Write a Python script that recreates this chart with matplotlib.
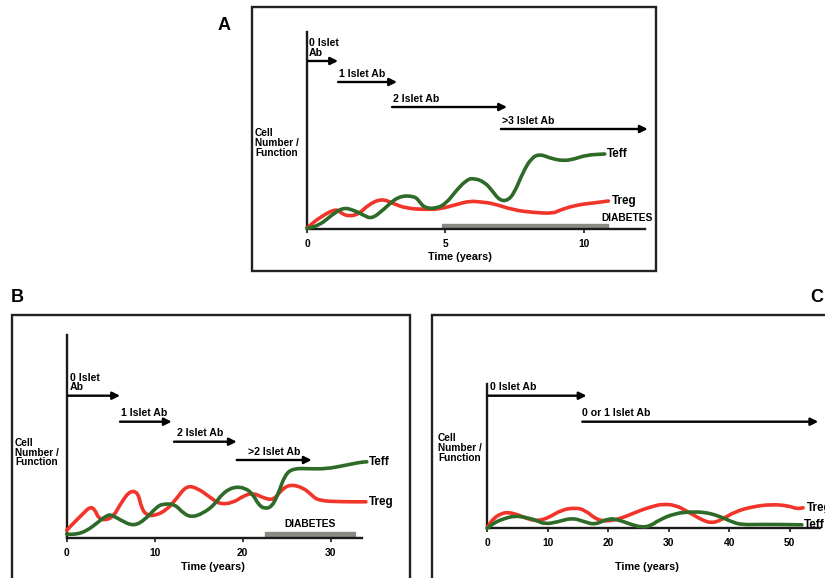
import matplotlib
matplotlib.use("Agg")
import matplotlib.pyplot as plt
from matplotlib.patches import Rectangle, PathPatch
from matplotlib.path import Path

plt.rcParams['font.family'] = ['Liberation Sans', 'DejaVu Sans']
plt.rcParams['font.weight'] = 'bold'

# ---------------- data ----------------
# Panel A
A_teff_t = [0, 0.47, 0.89, 1.31, 1.67, 2.03, 2.33, 2.75, 3.29, 3.89, 4.07, 4.25, 4.68, 5.04, 5.4, 5.76,
            6.0, 6.42, 6.72, 6.96, 7.26, 7.5, 7.8, 8.1, 8.4, 8.76, 9.24, 9.66, 10.09, 10.75]
A_teff = [0.5, 4, 14, 21.5, 19, 14, 10, 19, 33, 33, 27, 21, 20.5, 26, 39, 49,
          51, 47, 37, 28.5, 28.5, 37, 57, 71, 75, 71, 68, 70, 74, 75]
A_treg_t = [0, 0.47, 1.06, 1.24, 1.54, 1.9, 2.2, 2.69, 3.11, 3.6, 4.32, 4.8, 5.4, 5.87, 6.3, 6.72,
            7.45, 8.17, 8.89, 9.13, 9.73, 10.33, 10.88]
A_treg = [1, 12, 20.5, 15.5, 12.5, 15.5, 24, 30.5, 25.5, 20.5, 19.5, 20, 24.5, 28, 27, 25.5,
          19, 16.5, 15.5, 19, 24, 26, 28]
A_stage_labels = ["0 Islet\nAb", "1 Islet Ab", "2 Islet Ab", ">3 Islet Ab"]
A_stage_start = [0.04, 1.12, 3.07, 7.0]
A_stage_end = [1.12, 3.25, 7.22, 12.3]
A_diabetes = (4.86, 10.88)
A_xticks = [0, 5, 10]

# Panel B
B_teff_t = [0, 1.14, 2.27, 3.41, 4.55, 5.11, 6.06, 7.57, 8.9, 10.23, 10.98, 12.3, 13.25, 14.2, 15.5, 16.85,
            17.6, 18.9, 20.3, 21.2, 21.8, 22.5, 23.3, 24.0, 24.8, 25.75, 27.65, 29.5, 31.4, 33.3, 34.1]
B_teff = [4, 4, 7.5, 15, 23, 23.5, 18.5, 12, 18.5, 31.5, 34.5, 34, 25, 21, 25, 34,
          44, 51.5, 50.5, 43.5, 33.5, 29.5, 31.5, 43.5, 63.5, 70, 69.5, 69.5, 72.5, 76, 76.5]
B_treg_t = [0, 0.75, 1.9, 2.65, 3.2, 3.6, 4.35, 5.3, 6.25, 7.2, 8.1, 8.5, 9.1, 10.0, 11.4, 12.5,
            13.6, 14.8, 16.3, 17.4, 18.9, 20.1, 21.2, 22.3, 23.5, 24.4, 25.4, 26.9, 27.8, 28.6, 31.4, 34.0]
B_treg = [8, 15, 25, 31.5, 29, 20, 18, 21.5, 36.5, 47.5, 46, 30, 23, 22.5, 28.5, 40,
          52.5, 50.5, 41, 34, 35.5, 42.5, 45.5, 40.5, 38, 48.5, 54, 50.5, 43.5, 37.5, 36.5, 36.5]
B_stage_labels = ["0 Islet\nAb", "1 Islet Ab", "2 Islet Ab", ">2 Islet Ab"]
B_stage_start = [0.18, 6.06, 12.19, 19.32]
B_stage_end = [6.06, 11.93, 19.32, 27.84]
B_diabetes = (22.5, 32.8)
B_xticks = [0, 10, 20, 30]

# Panel C
C_teff_t = [0, 1.0, 2.6, 4.6, 6.2, 7.9, 9.5, 11.7, 14.0, 16.1, 17.8, 20.0, 21.7, 23.9, 25.6, 27.0,
            28.3, 31.0, 33.8, 36.0, 38.2, 40.4, 42.0, 45.4, 52.0]
C_teff = [0, 5, 9.5, 12.5, 11, 8.5, 4, 6.5, 10.5, 6.5, 3.5, 10, 8.5, 3.5, 1, 2.5,
          8, 15, 16.5, 16, 12.5, 6.5, 3.5, 4, 3.5]
C_treg_t = [0, 1.0, 2.4, 3.5, 5.1, 7.1, 8.4, 10.1, 12.3, 14.5, 16.1, 18.3, 20.6, 22.8, 25.5, 27.7,
            28.8, 31.0, 33.2, 35.4, 37.1, 38.7, 40.9, 43.7, 47.0, 49.8, 51.1, 52.2]
C_treg = [1, 10, 15, 16, 13.5, 8.5, 7.5, 10.5, 18.5, 20.5, 18.5, 7.5, 7.5, 11.5, 18.5, 22.5,
          24, 23.5, 16.5, 8.5, 5, 8.5, 16.5, 21.5, 24, 22.5, 19.5, 20.5]
C_stage_labels = ["0 Islet Ab", "0 or 1 Islet Ab"]
C_stage_start = [0.17, 15.7]
C_stage_end = [16.4, 54.7]
C_xticks = [0, 10, 20, 30, 40, 50]

# ---------------- layout / style ----------------
W, H = 825, 578
GREEN = '#2e6a28'
RED = '#f2352a'
BAR = '#8a8a82'
FS = 7.6      # stage labels
FS_Y = 7.3    # y label
FS_T = 7.4    # tick labels
FS_X = 7.8    # x label
FS_S = 8.4    # series labels

fig = plt.figure(figsize=(W / 100, H / 100), dpi=100)


def fx(x):
    return x / W


def fy(y):
    return 1 - y / H


def make_axes(x0, x1, ytop, ybot, xmax, ymax, xticks):
    ax = fig.add_axes([fx(x0), fy(ybot), (x1 - x0) / W, (ybot - ytop) / H])
    ax.set_xlim(0, xmax)
    ax.set_ylim(0, ymax)
    for s in ['top', 'right']:
        ax.spines[s].set_visible(False)
    for s in ['left', 'bottom']:
        ax.spines[s].set_linewidth(1.7)
        ax.spines[s].set_color('#1a1a1a')
    ax.set_yticks([])
    ax.set_xticks(xticks)
    ax.set_xticklabels([str(v) for v in xticks], fontsize=FS_T, fontweight='bold')
    ax.tick_params(axis='x', length=3, width=1.2, pad=4, color='#1a1a1a')
    ax.patch.set_alpha(0)
    return ax


def stages(ax, labels, starts, ends, levels, text_dx):
    for lab, s, e, lv, dx in zip(labels, starts, ends, levels, text_dx):
        ax.annotate('', xy=(e, lv), xytext=(s, lv),
                    arrowprops=dict(arrowstyle='-|>', lw=1.7, color='black',
                                    mutation_scale=11, shrinkA=0, shrinkB=0),
                    annotation_clip=False)
        ax.annotate(lab, xy=(s, lv), xytext=(dx, 2.5), textcoords='offset points',
                    ha='left', va='bottom', fontsize=FS, fontweight='bold',
                    linespacing=0.95, annotation_clip=False)


def smooth_line(ax, t, v, color):
    # quadratic B-spline style path using the data points as control points
    pts = list(zip(t, v))
    verts = [pts[0]]
    codes = [Path.MOVETO]
    mid = ((pts[0][0] + pts[1][0]) / 2, (pts[0][1] + pts[1][1]) / 2)
    verts.append(mid)
    codes.append(Path.LINETO)
    for i in range(1, len(pts) - 1):
        nxt = ((pts[i][0] + pts[i + 1][0]) / 2, (pts[i][1] + pts[i + 1][1]) / 2)
        verts += [pts[i], nxt]
        codes += [Path.CURVE3, Path.CURVE3]
    verts.append(pts[-1])
    codes.append(Path.LINETO)
    patch = PathPatch(Path(verts, codes), fill=False, ec=color, lw=2.6,
                      joinstyle='round', capstyle='round', clip_on=False, zorder=3)
    ax.add_patch(patch)


def curves(ax, tt, te, rt, rv):
    smooth_line(ax, rt, rv, RED)
    smooth_line(ax, tt, te, GREEN)
    ax.annotate('Teff', xy=(tt[-1], te[-1]), xytext=(1.5, 0), textcoords='offset points',
                ha='left', va='center', fontsize=FS_S, fontweight='bold', annotation_clip=False)
    ax.annotate('Treg', xy=(rt[-1], rv[-1]), xytext=(2.5, 0), textcoords='offset points',
                ha='left', va='center', fontsize=FS_S, fontweight='bold', annotation_clip=False)


# frames
fig.patches.append(Rectangle((fx(251.5), fy(271.5)), (656 - 251.5) / W, (271.5 - 7.5) / H,
                             transform=fig.transFigure, fill=False, lw=1.7, ec='#222222'))
fig.patches.append(Rectangle((fx(11.5), fy(600)), (410 - 11.5) / W, (600 - 315) / H,
                             transform=fig.transFigure, fill=False, lw=1.7, ec='#222222'))
fig.patches.append(Rectangle((fx(431.5), fy(600)), (900 - 431.5) / W, (600 - 315) / H,
                             transform=fig.transFigure, fill=False, lw=1.7, ec='#222222'))

# panel letters
fig.text(fx(218), fy(25), 'A', fontsize=13, fontweight='bold', va='center', ha='left')
fig.text(fx(11), fy(297), 'B', fontsize=13, fontweight='bold', va='center', ha='left')
fig.text(fx(810), fy(297), 'C', fontsize=13, fontweight='bold', va='center', ha='left')

# ---- Panel A ----
axA = make_axes(307, 645, 32, 229, 338 / 27.7, 197, A_xticks)
axA.broken_barh([(A_diabetes[0], A_diabetes[1] - A_diabetes[0])], (0, 5), color=BAR, zorder=2)
axA.text(12.5, 11, 'DIABETES', ha='right', va='center', fontsize=7.4, fontweight='bold')
curves(axA, A_teff_t, A_teff, A_treg_t, A_treg)
stages(axA, A_stage_labels, A_stage_start, A_stage_end, [168, 147, 122, 100], [0.5, 0.5, 0.5, 0.5])
fig.text(fx(255), fy(143), 'Cell\nNumber /\nFunction', fontsize=FS_Y, fontweight='bold',
         ha='left', va='center', linespacing=0.95)
fig.text(fx(460), fy(257), 'Time (years)', fontsize=FS_X, fontweight='bold', ha='center', va='center')

# ---- Panel B ----
axB = make_axes(66.7, 361.7, 335, 538.3, 295 / 8.8, 203.3, B_xticks)
axB.broken_barh([(B_diabetes[0], B_diabetes[1] - B_diabetes[0])], (0.7, 6), color=BAR, zorder=2)
axB.text(27.6, 14.5, 'DIABETES', ha='center', va='center', fontsize=7.4, fontweight='bold')
curves(axB, B_teff_t, B_teff, B_treg_t, B_treg)
stages(axB, B_stage_labels, B_stage_start, B_stage_end, [142.6, 116.6, 96.6, 78.3], [1, 0.5, 2, 8])
fig.text(fx(15), fy(452.5), 'Cell\nNumber /\nFunction', fontsize=FS_Y, fontweight='bold',
         ha='left', va='center', linespacing=0.95)
fig.text(fx(213), fy(567), 'Time (years)', fontsize=FS_X, fontweight='bold', ha='center', va='center')

# ---- Panel C ----
axC = make_axes(487.3, 820, 384, 528.3, 332.7 / 6.05, 144.3, C_xticks)
curves(axC, C_teff_t, C_teff, C_treg_t, C_treg)
stages(axC, C_stage_labels, C_stage_start, C_stage_end, [132.6, 106.6], [1, 0])
fig.text(fx(438), fy(448), 'Cell\nNumber /\nFunction', fontsize=FS_Y, fontweight='bold',
         ha='left', va='center', linespacing=0.95)
fig.text(fx(647), fy(567), 'Time (years)', fontsize=FS_X, fontweight='bold', ha='center', va='center')

fig.savefig('out.png', dpi=100)
